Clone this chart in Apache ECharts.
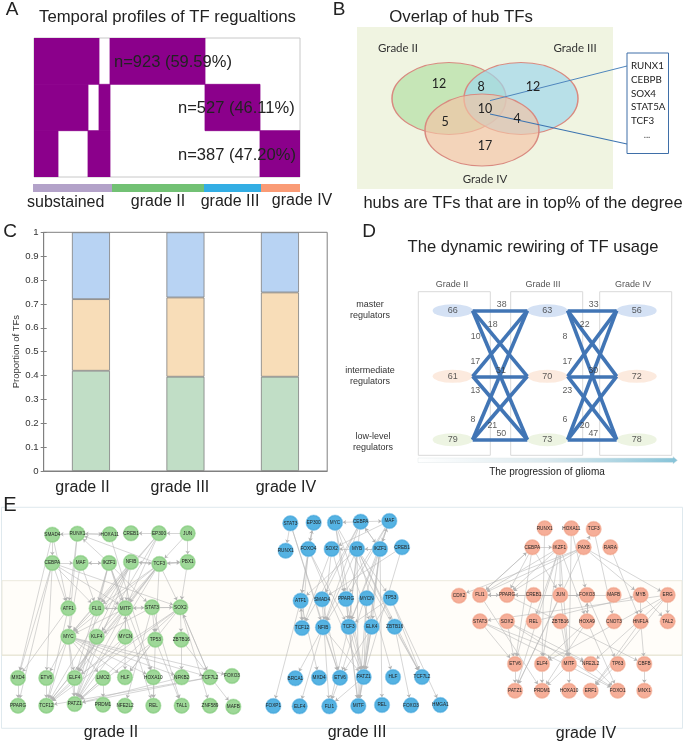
<!DOCTYPE html>
<html><head><meta charset="utf-8">
<style>html,body{margin:0;padding:0;background:#fff}#c{width:685px;height:744px}</style>
<script src="https://cdn.jsdelivr.net/npm/echarts@6/dist/echarts.min.js"></script>
</head><body><div id="c"></div>
<script>
// ---------- DATA ----------
var gradeCats = ['grade II', 'grade III', 'grade IV'];
var lowLevel = [0.42, 0.395, 0.395];
var intermediate = [0.30, 0.332, 0.353];
var master = [0.28, 0.273, 0.252];
var yTicks = ['0','0.1','0.2','0.3','0.4','0.5','0.6','0.7','0.8','0.9','1'];

// Panel A: purple cells as [from, to, row]
var profileCells = [[0,65,0],[76,171,0],[0,54,1],[65,76,1],[171,226,1],[0,24,2],[54,76,2],[226,266,2]];
var profileGroups = [['substained',79],['grade II',92],['grade III',57],['grade IV',39]];

// Panel B
var vennSets = ['Grade II','Grade III','Grade IV'];
var hubGenes = ['RUNX1','CEBPB','SOX4','STAT5A','TCF3'];

// Panel D
var rewiringCounts = [[66,63,56],[61,70,72],[79,73,78]];
var rewiringEdges = [38,18,10,17,31,13,8,21,50,33,22,8,17,30,23,6,20,47];

// Panel E : node lists are [name, column position, row position]
var nodesII = [['SMAD4',157,134],['RUNX1',232,131],['HOXA11',329,133],['CREB1',393,130],['EP300',477,130],['JUN',563,130],
['CEBPA',157,219],['MAF',242,219],['IKZF1',327,219],['NFIB',393,216],['TCF3',478,222],['PBX1',563,216],
['ATF1',205,355],['FLI1',290,355],['MITF',376,355],['STAT3',456,352],['SOX2',541,352],
['MYC',205,440],['KLF4',290,440],['MYCN',376,440],['TP53',466,449],['ZBTB16',544,449],
['MXD4',54,564],['ETV6',139,564],['ELF4',224,564],['LMO2',309,564],['HLF',375,562],['HOXA10',460,562],['NFKB2',545,562],['TCF7L2',630,562],['FOXO3',696,558],
['PPARG',54,647],['TCF12',139,647],['PATZ1',224,642],['PRDM1',309,644],['NFE2L2',375,647],['REL',460,647],['TAL1',545,647],['ZNF589',630,647],['MAFB',700,650]];
var edgesII = 'RUNX1>SMAD4 RUNX1>HOXA11 HOXA11>RUNX1 EP300>CREB1 JUN>EP300 SMAD4>CEBPA SMAD4>MXD4 SMAD4>ATF1 RUNX1>ATF1 RUNX1>MYC IKZF1>RUNX1 TCF3>RUNX1 HOXA11>HOXA10 CEBPA>MAF MAF>IKZF1 IKZF1>MAF NFIB>TCF3 TCF3>NFIB TCF3>PBX1 PBX1>TCF3 NFIB>PBX1 JUN>PBX1 JUN>TCF3 EP300>MYC EP300>FLI1 EP300>MITF EP300>ELF4 CEBPA>MXD4 CEBPA>ETV6 CEBPA>ATF1 CEBPA>FLI1 CEBPA>MITF CEBPA>SOX2 CEBPA>PPARG MAF>FLI1 MAF>MYC IKZF1>FLI1 IKZF1>MITF IKZF1>STAT3 IKZF1>ELF4 IKZF1>PATZ1 IKZF1>HOXA10 IKZF1>REL NFIB>MITF NFIB>MYC NFIB>ELF4 NFIB>PATZ1 NFIB>TCF12 NFIB>FLI1 TCF3>MITF TCF3>MYC TCF3>KLF4 TCF3>ELF4 TCF3>PATZ1 TCF3>TCF12 TCF3>FLI1 TCF3>SOX2 TCF3>TP53 PBX1>SOX2 ATF1>MXD4 ATF1>TCF12 FLI1>MYC FLI1>MITF MITF>STAT3 MITF>FLI1 MITF>MYC MITF>HLF MITF>PATZ1 MITF>TCF12 STAT3>SOX2 STAT3>TP53 STAT3>TAL1 STAT3>NFE2L2 STAT3>KLF4 SOX2>MITF SOX2>PATZ1 SOX2>ELF4 SOX2>TCF12 SOX2>ZBTB16 SOX2>TCF7L2 SOX2>ZNF589 TCF7L2>SOX2 SOX2>HLF MYC>ELF4 MYC>ETV6 MYC>TCF12 MYC>PATZ1 MYC>HOXA10 MYC>NFKB2 MYC>TCF7L2 MYC>FOXO3 MYC>HLF MYC>LMO2 KLF4>ELF4 KLF4>PATZ1 MYCN>PATZ1 MYCN>MITF MYCN>TCF12 TP53>PATZ1 TP53>HLF TP53>TAL1 TP53>REL ZBTB16>NFKB2 ZBTB16>MAFB MXD4>PPARG ETV6>TCF12 ELF4>TCF12 ELF4>PATZ1 LMO2>PRDM1 LMO2>PATZ1 HOXA10>REL NFKB2>PATZ1 TCF7L2>TCF12 TCF7L2>PATZ1'.split(' ');

var nodesIII = [['STAT3',136,100],['EP300',206,98],['MYC',270,98],['CEBPA',347,95],['MAF',433,93],
['RUNX1',122,182],['FOXO4',190,177],['SOX2',260,177],['MYB',336,177],['IKZF1',405,177],['CREB1',471,172],
['ATF1',167,332],['SMAD4',231,328],['PPARG',303,327],['MYCN',365,325],['TP53',437,324],
['TCF12',171,414],['NFIB',234,412],['TCF3',311,410],['ELK4',380,410],['ZBTB16',449,410],
['BRCA1',151,565],['MXD4',222,563],['ETV6',285,563],['PATZ1',356,561],['HLF',444,561],['TCF7L2',531,561],
['FOXP1',85,648],['ELF4',164,649],['FLI1',253,649],['MITF',340,648],['REL',411,645],['FOXO3',498,646],['HMGA1',586,645]];
var edgesIII = 'STAT3>RUNX1 CEBPA>MAF MAF>IKZF1 IKZF1>MAF CEBPA>IKZF1 IKZF1>CEBPA EP300>FOXO4 FOXO4>EP300 FOXO4>TCF12 FOXO4>ATF1 FOXO4>TCF3 FOXO4>PATZ1 EP300>ATF1 SOX2>NFIB SOX2>TCF12 SOX2>PPARG MYC>PATZ1 MYC>PPARG MYC>TCF7L2 MYC>ELK4 MYB>NFIB MYB>TCF3 MYB>ATF1 MYB>MITF MYB>TCF7L2 MYB>ZBTB16 MYB>HLF MYB>TP53 CEBPA>NFIB CEBPA>MYC CEBPA>SMAD4 CEBPA>TCF3 CEBPA>TCF12 MAF>NFIB MAF>PPARG MAF>TCF3 MAF>SOX2 IKZF1>TCF3 IKZF1>MITF IKZF1>PATZ1 IKZF1>ELK4 IKZF1>REL IKZF1>ETV6 IKZF1>SOX2 IKZF1>MYB CREB1>SMAD4 CREB1>PATZ1 ATF1>FOXP1 ATF1>MXD4 ATF1>TCF12 TCF12>ATF1 SMAD4>ETV6 SMAD4>FLI1 PPARG>PATZ1 PPARG>MITF PPARG>TCF3 MYCN>MITF MYCN>PATZ1 TP53>TCF3 TP53>ETV6 TP53>HMGA1 TP53>TCF7L2 NFIB>BRCA1 NFIB>ELF4 NFIB>ETV6 NFIB>PATZ1 TCF3>PATZ1 TCF3>MITF TCF3>FLI1 ELK4>PATZ1 ELK4>MITF ZBTB16>FOXO3 ZBTB16>TCF7L2 ETV6>FLI1 PATZ1>MITF PATZ1>FLI1 STAT3>NFIB STAT3>ETV6'.split(' ');

var nodesIV = [['RUNX1',344,115],['HOXA11',424,115],['TCF3',491,117],
['CEBPA',307,172],['IKZF1',389,172],['PAX8',461,172],['RARA',541,172],
['CDX2',87,317],['FLI1',150,315],['PPARG',231,315],['CREB1',311,315],['JUN',391,315],['FOXO3',471,315],['MAFB',551,315],['MYB',632,315],['ERG',713,315],
['STAT3',150,394],['SOX2',231,394],['REL',311,394],['ZBTB16',391,394],['HOXA9',471,394],['CNOT3',552,394],['HNF1A',632,394],['TAL2',713,394],
['ETV6',255,522],['ELF4',336,522],['MITF',417,522],['NFE2L2',482,522],['TP63',563,522],['CBFB',643,522],
['PATZ1',255,602],['PRDM1',336,602],['HOXA10',417,602],['ERF1',482,602],['FOXO1',563,602],['MNX1',643,602]];
var edgesIV = 'CEBPA>IKZF1 IKZF1>PPARG IKZF1>FLI1 IKZF1>JUN IKZF1>REL IKZF1>MITF IKZF1>ELF4 IKZF1>HOXA9 IKZF1>PATZ1 CEBPA>FLI1 FLI1>CEBPA CEBPA>PPARG CEBPA>JUN CEBPA>ETV6 RUNX1>ELF4 HOXA11>MITF HOXA11>FOXO3 TCF3>CNOT3 PAX8>TCF3 PAX8>CDX2 PAX8>FLI1 PAX8>MYB PAX8>ERG PAX8>PPARG PAX8>PATZ1 RARA>HNF1A FLI1>PRDM1 FLI1>PPARG PPARG>FLI1 CREB1>ETV6 JUN>FLI1 JUN>MITF JUN>FOXO3 FOXO3>PPARG ERG>STAT3 MAFB>PPARG MYB>TAL2 ERG>TAL2 MYB>HNF1A FOXO3>HOXA9 FOXO3>TP63 HOXA9>ELF4 HOXA9>FOXO1 HOXA9>FOXO3 HNF1A>CBFB HNF1A>ERF1 STAT3>ETV6 STAT3>NFE2L2 STAT3>FOXO1 SOX2>ETV6 SOX2>NFE2L2 SOX2>FOXO1 REL>MYB ZBTB16>MITF MITF>HOXA10 MITF>PRDM1 ELF4>PRDM1 ETV6>PATZ1 NFE2L2>FOXO1 TP63>ERF1 CBFB>MNX1 ERG>ERF1 ERG>ELF4 ERG>NFE2L2 PPARG>CBFB JUN>PATZ1 HOXA9>PRDM1'.split(' ');

// ---------- LAYOUT (panel placement, not data) ----------
var SANS = '"Liberation Sans", Arial, sans-serif', HUM = 'Lato, "Open Sans", sans-serif';
var grids = [], xAxes = [], yAxes = [], series = [], gfx = [];
function hiddenGrid(l, t, w, h, xmax, ymax, extra) {
  grids.push(Object.assign({left:l, top:t, width:w, height:h, containLabel:false}, extra || {}));
  xAxes.push({type:'value', gridIndex:grids.length-1, show:false, min:0, max:xmax});
  yAxes.push({type:'value', gridIndex:grids.length-1, show:false, min:0, max:ymax, inverse:true});
  return grids.length-1;
}
function T(s, x, y, size, opt) {
  opt = opt || {};
  gfx.push({type:'text', x:x, y:y, z:opt.z||20, silent:true, style:{text:s, fill:opt.color||'#222',
    font:(size)+'px '+(opt.font||SANS), lineHeight:opt.lineHeight, align:opt.align||'center', textAlign:opt.align||'center',
    verticalAlign:'middle', textVerticalAlign:'middle'}});
}
function R(x, y, w, h, fill, stroke, lw, z) {
  gfx.push({type:'rect', z:z||1, silent:true, shape:{x:x,y:y,width:w,height:h}, style:{fill:fill, stroke:stroke, lineWidth:lw||1}});
}
function L(x1,y1,x2,y2,c,lw,z){
  gfx.push({type:'line', z:z||1, silent:true, shape:{x1:x1,y1:y1,x2:x2,y2:y2}, style:{stroke:c, lineWidth:lw||1}});
}

// ---- Panel letters and titles
T('A', 12, 10, 19); T('B', 339, 10, 19); T('C', 10, 232, 19); T('D', 369, 232, 19); T('E', 10, 505, 20);
T('Temporal profiles of TF regualtions', 167.5, 17, 16.7);
T('Overlap of hub TFs', 461, 17, 16.8);
T('hubs are TFs that are in top% of the degree', 523, 203, 16.5);
T('The dynamic rewiring of TF usage', 533, 247, 16.6);

// ---- Panel A matrix
var gA = grids.length;
grids.push({left:34, top:38, width:266, height:139, show:true, backgroundColor:'#fff', borderColor:'#c8c8c8', borderWidth:1});
xAxes.push({type:'value', gridIndex:gA, show:false, min:0, max:266});
yAxes.push({type:'value', gridIndex:gA, show:false, min:0, max:3, inverse:true});
series.push({type:'custom', xAxisIndex:gA, yAxisIndex:gA, data:profileCells, silent:true, animation:false,
  encode:{x:[0,1], y:2}, clip:true,
  renderItem:function(p, api){
    var a = api.coord([api.value(0), api.value(2)]), b = api.coord([api.value(1), api.value(2)+1]);
    return {type:'rect', shape:{x:a[0], y:a[1], width:b[0]-a[0], height:b[1]-a[1]},
      style:{fill:'#8b008b', stroke:'#8b008b', lineWidth:0.8}};
  }});
T('n=923 (59.59%)', 114, 62, 16.5, {align:'left', color:'#222'});
T('n=527 (46.11%)', 178, 108, 16.5, {align:'left', color:'#222'});
T('n=387 (47.20%)', 178, 155, 16.5, {align:'left', color:'#222'});
// colour strip
var gStrip = grids.length;
grids.push({left:33, top:184, width:267, height:8});
xAxes.push({type:'value', gridIndex:gStrip, show:false, min:0, max:267});
yAxes.push({type:'category', gridIndex:gStrip, show:false, data:['profile']});
var stripColors = ['#b3a2c9','#72c174','#33aee4','#fa9b76'];
profileGroups.forEach(function(g,i){
  series.push({type:'bar', xAxisIndex:gStrip, yAxisIndex:gStrip, stack:'strip', barWidth:'100%', name:g[0], silent:true,
    animation:false, data:[g[1]], itemStyle:{color:stripColors[i]}});
});
T('substained', 65.7, 203, 16); T('grade II', 158, 202, 16); T('grade III', 230, 202, 16); T('grade IV', 302, 201, 16);

// ---- Panel B venn
var gB = hiddenGrid(357, 27, 256, 162, 256, 162, {show:true, backgroundColor:'#f0f4e1', borderWidth:0});
var vennColors = ['rgba(170,220,155,0.6)','rgba(160,215,235,0.7)','rgba(245,195,165,0.65)'];
var vennPos = [[92,71.5],[164,71.5],[125,103]];
series.push({type:'scatter', xAxisIndex:gB, yAxisIndex:gB, silent:true, animation:false, symbol:'circle', symbolSize:[114,72],
  data: vennSets.map(function(n,i){return {name:n, value:vennPos[i], itemStyle:{color:vennColors[i], borderColor:'#d98a80', borderWidth:1.2, opacity:1}};})});
T('Grade II', 398, 48, 11.5, {font:HUM, color:'#333'});
T('Grade III', 575, 48, 11.5, {font:HUM, color:'#333'});
T('Grade IV', 485, 179, 11.5, {font:HUM, color:'#333'});
[['12',439,84],['8',481,87],['12',533,87],['10',485,109],['5',445,122],['4',517,119],['17',485,146]].forEach(function(v){
  T(v[0], v[1], v[2], 12.5, {font:HUM, color:'#222'});
});
L(490,100.6,627,66,'#4f86bd',1,6); L(490,114,627,144,'#3d74b0',1.2,6);
R(627,53,41.5,100.5,'#fff','#3f6fa8',1,7);
hubGenes.forEach(function(g,i){ T(g, 631, 66+i*13.75, 9.8, {font:HUM, align:'left', color:'#222', z:21}); });
T('...', 647, 135, 9.5, {font:HUM, color:'#444', z:21});

// ---- Panel C stacked bars
var gC = grids.length;
grids.push({left:43.7, top:232.3, width:283.5, height:238.7, show:true, borderColor:'#808080', borderWidth:1, backgroundColor:'#fff'});
var labelShift = [[0,17,0,0],[0,11,0,0],[0,0,0,12]];
xAxes.push({type:'category', gridIndex:gC, data:gradeCats.map(function(c,i){
    return {value:c, textStyle:{padding:labelShift[i]}};}),
  axisLine:{lineStyle:{color:'#808080'}}, axisTick:{show:false},
  axisLabel:{fontSize:16, color:'#222', fontFamily:SANS, margin:9}});
yAxes.push({type:'value', gridIndex:gC, min:0, max:1, interval:0.1, name:'Proportion of TFs', nameLocation:'middle', nameGap:19,
  nameTextStyle:{fontSize:9.5, color:'#333', fontFamily:SANS}, splitLine:{show:false},
  axisLine:{show:true, lineStyle:{color:'#808080'}}, axisTick:{show:true, inside:true, length:3, lineStyle:{color:'#808080'}},
  axisLabel:{fontSize:9.6, color:'#333', fontFamily:SANS, margin:5, formatter:function(v){return yTicks[Math.round(v*10)];}}});
[[lowLevel,'#c1dec6'],[intermediate,'#f8ddb8'],[master,'#b8d3f3']].forEach(function(s,i){
  series.push({type:'bar', xAxisIndex:gC, yAxisIndex:gC, stack:'tf', barWidth:38, data:s[0], silent:true, animation:false,
    name:['low-level','intermediate','master'][i], itemStyle:{color:s[1], borderColor:'#7f7f7f', borderWidth:0.8}});
});
// right-hand tick side of the frame
var gC2 = grids.length;
grids.push({left:43.7, top:232.3, width:283.5, height:238.7});
xAxes.push({type:'value', gridIndex:gC2, show:false, min:0, max:1});
yAxes.push({type:'value', gridIndex:gC2, min:0, max:1, interval:0.1, position:'right', axisLine:{show:false}, splitLine:{show:false},
  axisTick:{show:true, inside:true, length:3, lineStyle:{color:'#808080'}}, axisLabel:{show:false}});

// ---- Panel D rewiring
var gD = hiddenGrid(345, 215, 340, 285, 1020, 855);
R(418.3,291.7,72,163.6,'rgba(255,255,255,0)','#d9d9d9',1,1);
R(510.7,291.7,72,163.6,'rgba(255,255,255,0)','#d9d9d9',1,1);
R(599.7,291.7,72,163.6,'rgba(255,255,255,0)','#d9d9d9',1,1);
var rowY = [287,484,674], colX = [323,607,875], edgeX = [383,547,668,815];
var rowFill = ['#c9daf1','#fbe5d6','#e9f1db'];
var dNodes = [], dLinks = [];
edgeX.forEach(function(x,c){ rowY.forEach(function(y,r){ dNodes.push({name:'p'+c+'_'+r, value:[x,y]}); }); });
[[0,1],[2,3]].forEach(function(p){
  [0,1,2].forEach(function(a){ [0,1,2].forEach(function(b){ dLinks.push({source:'p'+p[0]+'_'+a, target:'p'+p[1]+'_'+b}); }); });
});
series.push({type:'graph', coordinateSystem:'cartesian2d', xAxisIndex:gD, yAxisIndex:gD, layout:'none', silent:true, animation:false,
  symbolSize:0.1, data:dNodes, links:dLinks, lineStyle:{color:'#4175b5', width:3.7, opacity:1, curveness:0}, label:{show:false}, z:3});
var ellipses = [];
rewiringCounts.forEach(function(row,r){ row.forEach(function(v,c){
  ellipses.push({value:[colX[c],rowY[r],v], itemStyle:{color:rowFill[r]}});
});});
series.push({type:'scatter', xAxisIndex:gD, yAxisIndex:gD, silent:true, animation:false, symbol:'circle', symbolSize:[40,13], z:2,
  data:ellipses, label:{show:true, position:'inside', color:'#333', fontSize:9, fontFamily:SANS, formatter:function(p){return p.value[2];}}});
var edgeLabelPos = [[470,270],[443,330],[392,366],[391,441],[468,467],[391,527],[384,615],[442,632],[469,657],
  [746,270],[719,330],[660,366],[667,441],[745,467],[667,527],[660,615],[719,632],[745,657]];
series.push({type:'scatter', xAxisIndex:gD, yAxisIndex:gD, silent:true, animation:false, symbolSize:0.1, z:5,
  data:rewiringEdges.map(function(v,i){return {value:edgeLabelPos[i].concat(v)};}),
  label:{show:true, position:'inside', color:'#333', fontSize:8.8, fontFamily:SANS, formatter:function(p){return p.value[2];}}});
T('Grade II',452,285,9,{color:'#555'}); T('Grade III',543,285,9,{color:'#555'}); T('Grade IV',633,285,9,{color:'#555'});
T('master\nregulators',370,310.5,9,{color:'#333',lineHeight:11});
T('intermediate\nregulators',370,376.5,9,{color:'#333',lineHeight:11});
T('low-level\nregulators',373,442.5,9,{color:'#333',lineHeight:11});
gfx.push({type:'polygon', z:1, silent:true, shape:{points:[[418,458],[673,458],[673,456.5],[677.5,460.3],[673,464],[673,462.5],[418,462.5]]},
  style:{stroke:'#e2e8ea', lineWidth:0.5, fill:{type:'linear',x:0,y:0,x2:1,y2:0,colorStops:[{offset:0,color:'#ffffff'},{offset:0.5,color:'#dbe9ee'},{offset:1,color:'#86c3d8'}]}}});
T('The progression of glioma',547,472,10,{color:'#222'});

// ---- Panel E networks
R(1.5,507.3,681,221,'#ffffff','#dfe9ee',1,0);
R(2,580.7,680,74.5,'#fffdf9','#ece9dd',1,0);
L(2,655.2,682,655.2,'#e6e4d2',1,0);
function network(left, width, nodes, edges, colors) {
  var g = hiddenGrid(left, 490, width, 254, width*3, 762);
  series.push({type:'graph', coordinateSystem:'cartesian2d', xAxisIndex:g, yAxisIndex:g, layout:'none', silent:true, animation:false, z:3,
    symbol:'circle', symbolSize:15.5,
    data:nodes.map(function(n){return {name:n[0], value:[n[1],n[2]]};}),
    links:edges.map(function(e){var p=e.split('>');return {source:p[0], target:p[1]};}),
    edgeSymbol:['none','arrow'], edgeSymbolSize:[0,3.5],
    lineStyle:{color:'#b3b3b3', width:0.55, opacity:1, curveness:0},
    itemStyle:{color:{type:'radial',x:0.5,y:0.5,r:0.5,colorStops:[{offset:0,color:colors[0]},{offset:0.72,color:colors[0]},{offset:1,color:colors[1]}]}, borderColor:colors[2], borderWidth:0.6, opacity:1},
    label:{show:true, position:'inside', formatter:'{b}', fontSize:4.7, color:'#222', fontFamily:SANS}});
}
network(0, 255, nodesII, edgesII, ['#9ed898','#7cc676','#b4e0ae']);
network(245, 195, nodesIII, edgesIII, ['#55b3e3','#3d9fd6','#94cfee']);
network(430, 255, nodesIV, edgesIV, ['#f6ae98','#ec9a80','#f8ccbc']);
T('grade II',111,733,16); T('grade III',357,733,16); T('grade IV',586,734,16);

var chart = echarts.init(document.getElementById('c'), null, {renderer:'canvas'});
chart.setOption({animation:false, backgroundColor:'#fff', grid:grids, xAxis:xAxes, yAxis:yAxes, series:series, graphic:{elements:gfx}});
</script></body></html>
